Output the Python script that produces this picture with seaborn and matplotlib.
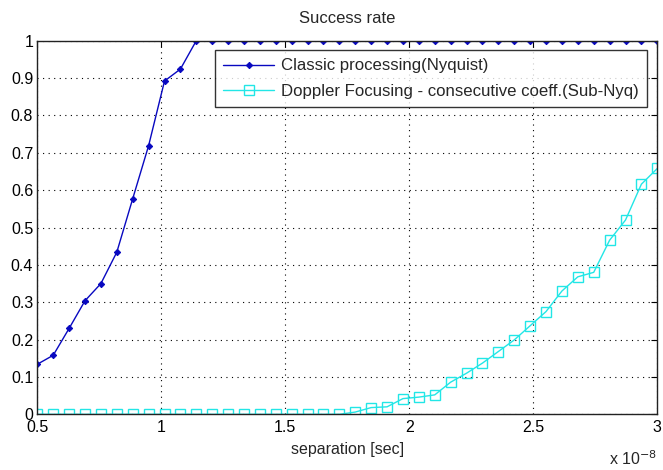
import numpy as np
import pandas as pd
import matplotlib
matplotlib.use("Agg")
import matplotlib.pyplot as plt
import seaborn as sns

# ---- data ----
x_start, x_end, n_points = 0.5, 3.0, 40   # separation in units of 1e-8 s
classic = [0.134, 0.158, 0.23, 0.304, 0.35, 0.434, 0.577, 0.719, 0.892, 0.924] + [1.0] * 30
doppler = [0.0] * 20 + [0.006, 0.018, 0.02, 0.042, 0.046, 0.052, 0.086, 0.11, 0.137, 0.168,
                        0.199, 0.237, 0.275, 0.33, 0.368, 0.38, 0.466, 0.52, 0.616, 0.658]
series_names = ["Classic processing(Nyquist)",
                "Doppler Focusing - consecutive coeff.(Sub-Nyq)"]
x_ticks = [0.5, 1, 1.5, 2, 2.5, 3]
y_ticks = [0, 0.1, 0.2, 0.3, 0.4, 0.5, 0.6, 0.7, 0.8, 0.9, 1]

sep = np.linspace(x_start, x_end, n_points)
df = pd.DataFrame({
    "sep": np.concatenate([sep, sep]),
    "rate": classic + doppler,
    "series": [series_names[0]] * n_points + [series_names[1]] * n_points,
})

sns.set_style("white")
plt.rcParams["font.family"] = ["Liberation Sans", "DejaVu Sans"]

fig = plt.figure(figsize=(6.63, 4.70), dpi=100)
ax = fig.add_axes([0.0563, 0.1185, 0.9351, 0.7949])

blue = "#0808c0"
cyan = "#22e6e6"
sns.lineplot(data=df, x="sep", y="rate", hue="series", style="series",
             palette=[blue, cyan], markers=["D", "s"], dashes=False,
             ax=ax, linewidth=1.0, legend=False)

lines = ax.get_lines()
lines[0].set_markersize(3.2)
lines[0].set_markerfacecolor(blue)
lines[0].set_markeredgecolor(blue)
lines[1].set_markersize(7.5)
lines[1].set_markerfacecolor("none")
lines[1].set_markeredgecolor(cyan)
lines[1].set_markeredgewidth(1.0)

ax.set_xlim(0.5, 3)
ax.set_ylim(0, 1)
ax.set_xticks(x_ticks)
ax.set_yticks(y_ticks)
ax.set_xticklabels([f"{v:g}" for v in x_ticks])
ax.set_yticklabels([f"{v:g}" for v in y_ticks])
ax.tick_params(direction="in", top=True, right=True, length=4, width=0.8,
               labelsize=11.5, colors="black", pad=3)
ax.tick_params(axis="x", pad=4)
for s in ax.spines.values():
    s.set_color("#222222")
    s.set_linewidth(1.0)
    s.set_visible(True)

ax.grid(True, color="black", linestyle=(0, (1, 4)), linewidth=0.8)
ax.set_axisbelow(True)

ax.set_title("Success rate", fontsize=12, pad=13)
ax.set_xlabel("separation [sec]", fontsize=11.5, labelpad=5)
ax.set_ylabel("")
ax.text(1.0, -0.136, r"x 10$^{-8}$", transform=ax.transAxes, ha="right",
        va="baseline", fontsize=11.5)

leg = ax.legend(handles=lines[:2], labels=series_names, loc="upper right",
                bbox_to_anchor=(0.983, 0.975), borderaxespad=0, fontsize=12.1,
                frameon=True, fancybox=False, edgecolor="black",
                handlelength=3.0, borderpad=0.5, labelspacing=0.6,
                handletextpad=0.4)
leg.get_frame().set_linewidth(1.0)

fig.savefig("out.png", dpi=100)
